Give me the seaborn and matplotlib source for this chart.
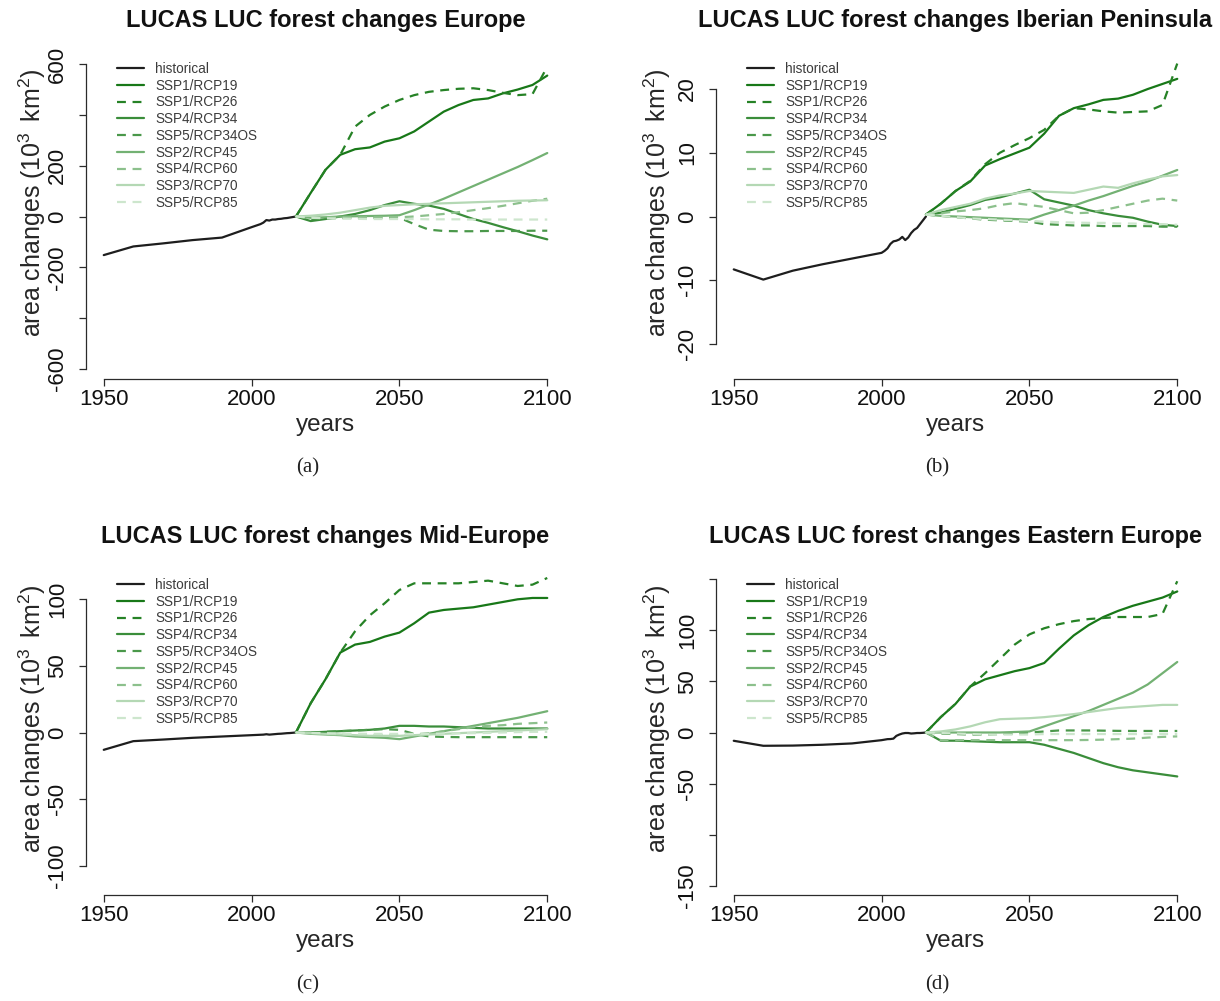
import matplotlib
matplotlib.use("Agg")
import matplotlib.pyplot as plt
import numpy as np
import pandas as pd
import seaborn as sns

# ---------------------------------------------------------------- data
hist_years = [1950, 1960, 1970, 1980, 1990,
              2000, 2001, 2002, 2003, 2004, 2005, 2006, 2007,
              2008, 2009, 2010, 2011, 2012, 2013, 2014, 2015]
scen_years = [2015, 2020, 2025, 2030, 2035, 2040, 2045, 2050, 2055,
              2060, 2065, 2070, 2075, 2080, 2085, 2090, 2095, 2100]

scenarios = ["SSP1/RCP19", "SSP1/RCP26", "SSP4/RCP34", "SSP5/RCP34OS",
             "SSP2/RCP45", "SSP4/RCP60", "SSP3/RCP70", "SSP5/RCP85"]

# Europe (10^3 km^2)
eu_hist = [-152, -118, -106, -93, -83,
           -42, -38, -34, -30, -24, -14, -16, -12, -12, -10, -9, -7, -6, -4, -2, 0]
eu_rcp19 = [0, 93, 184, 243, 265, 272, 295, 308, 335, 374, 413, 439, 459, 465, 485, 500, 518, 555]
eu_rcp26 = [0, 93, 184, 243, 354, 400, 433, 459, 478, 491, 498, 503, 505, 498, 487, 478, 482, 590]
eu_rcp34 = [0, -18, -10, 0, 10, 25, 45, 60, 50, 43, 30, 10, -10, -25, -42, -58, -75, -90]
eu_rcp34os = [0, -10, -8, -6, -5, -5, -5, -5, -30, -52, -57, -58, -58, -57, -57, -57, -56, -56]
eu_rcp45 = [0, -5, -3, 0, 1, 2, 3, 5, 25, 47, 70, 95, 120, 145, 170, 195, 222, 250]
eu_rcp60 = [0, -5, -4, -3, -3, -3, -3, -3, 0, 5, 10, 17, 25, 33, 42, 52, 62, 70]
eu_rcp70 = [0, 3, 8, 15, 25, 35, 42, 45, 48, 50, 52, 54, 56, 58, 60, 62, 63, 64]
eu_rcp85 = [0, -5, -7, -8, -9, -10, -10, -10, -10, -11, -11, -11, -12, -12, -12, -12, -12, -12]

# Iberian Peninsula
ip_hist = [-8.3, -9.9, -8.5, -7.5, -6.6,
           -5.7, -5.4, -5.0, -4.3, -3.9, -3.8, -3.6, -3.2, -3.7, -3.3, -2.6, -2.1, -1.8, -1.2, -0.6, 0.0]
ip_rcp19 = [0.3, 2.0, 4.0, 5.5, 8.0, 9.0, 9.9, 10.8, 13.0, 15.8, 17.0, 17.6, 18.3, 18.5, 19.1, 20.0, 20.8, 21.6]
ip_rcp26 = [0.3, 2.0, 4.0, 5.6, 8.2, 10.0, 11.2, 12.3, 13.6, 15.8, 17.0, 16.8, 16.5, 16.3, 16.4, 16.5, 17.5, 24.0]
ip_rcp34 = [0.3, 0.6, 1.2, 1.8, 2.6, 3.0, 3.6, 4.2, 2.7, 2.2, 1.7, 1.0, 0.5, 0.1, -0.2, -0.8, -1.3, -1.5]
ip_rcp34os = [0.3, 0.1, -0.1, -0.3, -0.5, -0.6, -0.7, -0.8, -1.2, -1.3, -1.4, -1.4, -1.5, -1.5, -1.5, -1.5, -1.6, -1.6]
ip_rcp45 = [0.3, 0.1, 0.0, -0.1, -0.2, -0.3, -0.4, -0.5, 0.3, 1.0, 1.7, 2.5, 3.2, 4.0, 4.8, 5.5, 6.4, 7.3]
ip_rcp60 = [0.3, 0.5, 0.8, 1.0, 1.3, 1.8, 2.1, 1.8, 1.5, 1.0, 0.5, 0.6, 1.0, 1.5, 2.0, 2.5, 2.8, 2.5]
ip_rcp70 = [0.3, 1.0, 1.5, 2.0, 2.8, 3.3, 3.6, 4.0, 3.9, 3.8, 3.7, 4.2, 4.7, 4.5, 5.2, 5.8, 6.3, 6.5]
ip_rcp85 = [0.3, 0.1, -0.1, -0.3, -0.4, -0.5, -0.6, -0.7, -0.8, -0.9, -0.95, -1.0, -1.0, -1.1, -1.1, -1.2, -1.2, -1.3]

# Mid-Europe
me_hist = [-13, -6.5, -5.3, -4.0, -3.0,
           -2.0, -1.9, -1.8, -1.7, -1.6, -1.3, -1.6, -1.4, -1.2, -1.0, -0.9, -0.7, -0.5, -0.4, -0.2, 0.0]
me_rcp19 = [0, 22, 40, 60, 66, 68, 72, 75, 82, 90, 92, 93, 94, 96, 98, 100, 101, 101]
me_rcp26 = [0, 22, 40, 60, 76, 88, 97, 107, 112, 112, 112, 112, 113, 114, 112, 110, 111, 116]
me_rcp34 = [0, 0, 0.5, 1, 1.5, 2, 3, 5, 5, 4.5, 4.5, 4, 3.5, 3, 3, 3, 3, 3]
me_rcp34os = [0, 0, 0.5, 1, 1.5, 2, 2.5, 2, -1, -3, -3.3, -3.5, -3.5, -3.5, -3.5, -3.5, -3.5, -3.5]
me_rcp45 = [0, -1, -1.5, -2, -3, -3.5, -4, -5, -3, -1, 1, 3, 5, 7, 9, 11, 13.5, 16]
me_rcp60 = [0, -0.5, -1, -1.5, -2, -2, -2, -2, -1.5, -0.5, 1, 2.5, 4, 5, 5.5, 6.5, 7, 7.5]
me_rcp70 = [0, -0.5, -1, -1.5, -2, -2.5, -2.5, -2.5, -2, -1.5, -1, -0.5, 0, 0.5, 1, 1.5, 2, 2.5]
me_rcp85 = [0, -0.3, -0.5, -0.7, -1, -1, -1, -1, -1, -1, -0.8, -0.6, -0.5, -0.3, 0, 0.3, 0.5, 0.5]

# Eastern Europe
ee_hist = [-8.1, -13, -12.8, -12, -10.7,
           -7.5, -7.0, -6.5, -6.4, -6.0, -3.3, -2.0, -1.0, -0.5, -0.5, -1.0, -0.8, -0.5, -0.5, -0.3, 0.0]
ee_rcp19 = [0, 15, 28, 45, 52, 56, 60, 63, 68, 82, 95, 105, 113, 119, 124, 128, 132, 138]
ee_rcp26 = [0, 15, 28, 45, 58, 72, 86, 96, 102, 106, 109, 111, 112, 113, 113, 113, 116, 148]
ee_rcp34 = [0, -8, -8, -8.5, -9, -9.5, -9.5, -9.5, -12, -16, -20, -25, -30, -34, -37, -39, -41, -43]
ee_rcp34os = [0, -1, -1.5, -2, -2, -1.5, -1, 0, 1, 2, 2, 2, 1.8, 1.6, 1.5, 1.5, 1.5, 1.5]
ee_rcp45 = [0, 0, 0, 0, 0, 0, 0.5, 1, 6, 11, 16, 21, 27, 33, 39, 47, 58, 69]
ee_rcp60 = [0, -7.5, -7.5, -7.5, -7.5, -7.5, -7.5, -7.5, -7.5, -7.5, -7.5, -7.3, -7, -6.5, -6, -5, -4.3, -3.8]
ee_rcp70 = [0, 1, 3, 6, 10, 13, 13.5, 14, 15, 16.5, 18, 20, 22, 24, 25, 26, 27, 27]
ee_rcp85 = [0, -0.5, -1, -1.5, -2, -2, -2, -2, -1.5, -1.5, -1.5, -1.5, -1.5, -1.5, -1.5, -1.5, -1.5, -1.5]

region_titles = ["LUCAS LUC forest changes Europe",
                 "LUCAS LUC forest changes Iberian Peninsula",
                 "LUCAS LUC forest changes Mid-Europe",
                 "LUCAS LUC forest changes Eastern Europe"]
captions = ["(a)", "(b)", "(c)", "(d)"]

# ---------------------------------------------------------------- style
sns.set_style("ticks")
plt.rcParams["font.family"] = ["Liberation Sans", "DejaVu Sans"]
plt.rcParams["mathtext.fontset"] = "custom"
plt.rcParams["mathtext.rm"] = "Liberation Sans"
plt.rcParams["mathtext.it"] = "Liberation Sans:italic"
plt.rcParams["mathtext.bf"] = "Liberation Sans:bold"

series_order = ["historical"] + scenarios
palette = {
    "historical": "#1e1e1e",
    "SSP1/RCP19": "#187818",
    "SSP1/RCP26": "#268226",
    "SSP4/RCP34": "#3a8d3a",
    "SSP5/RCP34OS": "#4a984a",
    "SSP2/RCP45": "#73b173",
    "SSP4/RCP60": "#8cc08c",
    "SSP3/RCP70": "#b4d8b4",
    "SSP5/RCP85": "#cde6cd",
}
dash_map = {s: "" for s in series_order}
for s in ["SSP1/RCP26", "SSP5/RCP34OS", "SSP4/RCP60", "SSP5/RCP85"]:
    dash_map[s] = (4, 3)


def panel_frame(hist_vals, scen_vals):
    parts = [pd.DataFrame({"year": hist_years, "value": hist_vals,
                           "series": "historical"})]
    for name, vals in zip(scenarios, scen_vals):
        parts.append(pd.DataFrame({"year": scen_years, "value": vals,
                                   "series": name}))
    return pd.concat(parts, ignore_index=True)


frames = [
    panel_frame(eu_hist, [eu_rcp19, eu_rcp26, eu_rcp34, eu_rcp34os,
                          eu_rcp45, eu_rcp60, eu_rcp70, eu_rcp85]),
    panel_frame(ip_hist, [ip_rcp19, ip_rcp26, ip_rcp34, ip_rcp34os,
                          ip_rcp45, ip_rcp60, ip_rcp70, ip_rcp85]),
    panel_frame(me_hist, [me_rcp19, me_rcp26, me_rcp34, me_rcp34os,
                          me_rcp45, me_rcp60, me_rcp70, me_rcp85]),
    panel_frame(ee_hist, [ee_rcp19, ee_rcp26, ee_rcp34, ee_rcp34os,
                          ee_rcp45, ee_rcp60, ee_rcp70, ee_rcp85]),
]

# y-axis setup per panel: limits, ticks, tick labels
y_limits = [(-640, 640), (-25.5, 25.5), (-122, 122), (-159, 159)]
y_ticks = [[-600, -400, -200, 0, 200, 400, 600],
           [-20, -10, 0, 10, 20],
           [-100, -50, 0, 50, 100],
           [-150, -100, -50, 0, 50, 100, 150]]
y_ticklabels = [["-600", "", "-200", "0", "200", "", "600"],
                ["-20", "-10", "0", "10", "20"],
                ["-100", "-50", "0", "50", "100"],
                ["-150", "", "-50", "0", "50", "100", ""]]

# panel boxes in pixels: left, top, right, bottom
W, H = 1220, 1001
boxes = [(86, 54, 565, 379), (716, 54, 1195, 379),
         (86, 570, 565, 895), (716, 570, 1195, 895)]
ylabel_x_px = [32, 657, 32, 657]
caption_pos = [(308, 468), (937, 468), (308, 985), (937, 985)]

fig = plt.figure(figsize=(W / 100, H / 100), dpi=100)
axis_color = "#2b2b2b"

for i, df in enumerate(frames):
    l, t, r, b = boxes[i]
    ax = fig.add_axes([l / W, 1 - b / H, (r - l) / W, (b - t) / H])
    sns.lineplot(data=df, x="year", y="value", hue="series", style="series",
                 hue_order=series_order, style_order=series_order,
                 palette=palette, dashes=dash_map, linewidth=1.6,
                 estimator=None, sort=True, ax=ax)
    ax.set_xlim(1944, 2106)
    ax.set_ylim(*y_limits[i])
    ax.set_xticks([1950, 2000, 2050, 2100])
    ax.set_xticklabels(["1950", "2000", "2050", "2100"])
    ax.set_yticks(y_ticks[i])
    ax.set_yticklabels(y_ticklabels[i], rotation=90, va="center")
    ax.tick_params(axis="both", direction="out", length=5, width=0.9,
                   color=axis_color, labelsize=16, labelcolor="#111111")
    ax.tick_params(axis="x", pad=2)
    ax.tick_params(axis="y", pad=8)
    for side in ["top", "right"]:
        ax.spines[side].set_visible(False)
    for side in ["left", "bottom"]:
        ax.spines[side].set_color(axis_color)
        ax.spines[side].set_linewidth(0.9)
    ax.spines["bottom"].set_bounds(1950, 2100)
    ax.spines["left"].set_bounds(y_ticks[i][0], y_ticks[i][-1])

    ax.set_xlabel("years", fontsize=17.5, va="center")
    ax.xaxis.set_label_coords(0.5, -46 / (b - t))
    ax.set_ylabel(r"area changes (10$^{3}$ $\,$km$^{2}$)", fontsize=18,
                  va="center", ha="center")
    ax.yaxis.set_label_coords((ylabel_x_px[i] - l) / (r - l),
                              (b - (t + 149)) / (b - t))

    sns.move_legend(ax, "upper left",
                    bbox_to_anchor=(31 / (r - l), 1 - 8 / (b - t)),
                    frameon=False, title=None, fontsize=9.8,
                    handlelength=1.95, handletextpad=0.85,
                    labelspacing=0.20, borderaxespad=0, borderpad=0)
    leg = ax.get_legend()
    for txt in leg.get_texts():
        txt.set_color("#3c3c3c")
    for line in leg.get_lines():
        line.set_linewidth(1.6)

    cx = (l + r) / 2
    fig.text(cx / W, 1 - (t - 33) / H, region_titles[i],
             ha="center", va="center", fontsize=17, fontweight="bold",
             color="#111111")
    px, py = caption_pos[i]
    fig.text(px / W, 1 - py / H, captions[i], ha="center", va="center",
             fontsize=15, family=["Liberation Serif", "DejaVu Serif"],
             color="#222222")

fig.savefig("out.png", dpi=100, facecolor="white")
